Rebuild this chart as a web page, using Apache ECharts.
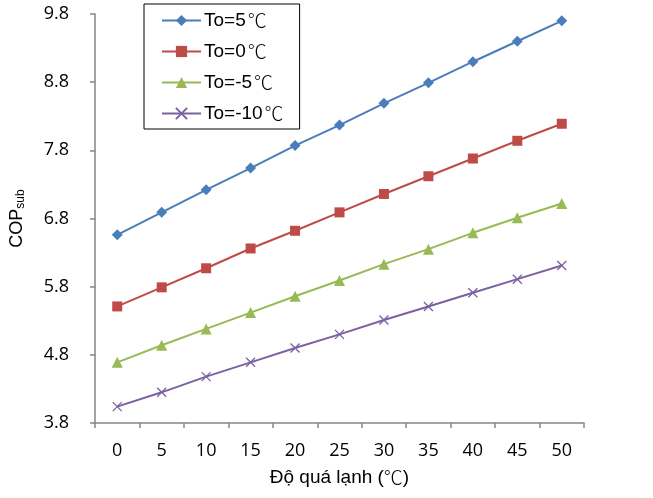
<!DOCTYPE html>
<html>
<head>
<meta charset="utf-8">
<script src="https://cdn.jsdelivr.net/npm/echarts@6/dist/echarts.min.js"></script>
<style>html,body{margin:0;padding:0;background:#fff}#c{width:653px;height:498px}</style>
</head>
<body>
<div id="c"></div>
<script>
const categories = ['0','5','10','15','20','25','30','35','40','45','50'];
const seriesNames = ['To=5℃','To=0℃','To=-5℃','To=-10℃'];
const to5 = [6.56, 6.89, 7.22, 7.54, 7.87, 8.17, 8.49, 8.79, 9.10, 9.40, 9.70];
const to0 = [5.51, 5.79, 6.07, 6.36, 6.62, 6.89, 7.16, 7.42, 7.68, 7.94, 8.19];
const toM5 = [4.69, 4.94, 5.18, 5.42, 5.66, 5.89, 6.13, 6.35, 6.59, 6.81, 7.02];
const toM10 = [4.04, 4.25, 4.48, 4.69, 4.90, 5.10, 5.31, 5.51, 5.71, 5.91, 6.11];
const yMin = 3.8, yMax = 9.8, yStep = 1;

const colors = ['#4A7EBB', '#BE4B48', '#98B954', '#7D60A0'];
const tickFont = 'Open Sans';
const cjk = 'Noto Sans CJK SC';
const chart = echarts.init(document.getElementById('c'));
const crossPath = 'path://M0,0L10,10M10,0L0,10';
function mk(name, data, color, symbol, size, extra) {
  return Object.assign({
    name, type: 'line', data, symbol, symbolSize: size,
    lineStyle: { color, width: 2 },
    itemStyle: { color },
    emphasis: { disabled: true },
    animation: false
  }, extra || {});
}
chart.setOption({
  animation: false,
  grid: { left: 93, right: 69, top: 14, bottom: 75, containLabel: false },
  legend: {
    orient: 'vertical', left: 144, top: 4,
    padding: [7, 16, 6, 17],
    borderColor: '#000', borderWidth: 1,
    itemWidth: 39, itemHeight: 14, itemGap: 12,
    formatter: n => '{t|' + n.replace('℃', '}{c|℃}'),
    textStyle: {
      color: '#000', padding: [0,0,0,-2],
      rich: {
        t: { fontFamily: 'Liberation Sans', fontSize: 19, color: '#000', lineHeight: 20 },
        c: { fontFamily: cjk, fontSize: 19, color: '#000', lineHeight: 20, fontWeight: 300, padding: [0,0,0,2] }
      }
    },
    data: seriesNames
  },
  xAxis: {
    type: 'category', data: categories, boundaryGap: true,
    axisLine: { lineStyle: { color: '#868686', width: 1.5 } },
    axisTick: { show: true, length: 5, lineStyle: { color: '#868686', width: 1.5 } },
    axisLabel: { fontFamily: tickFont, fontSize: 18, color: '#000', margin: 19 },
    name: '{t|Độ quá lạnh (}{c|℃}{t|)}', nameLocation: 'middle', nameGap: 45,
    nameTextStyle: {
      rich: {
        t: { fontFamily: 'Liberation Sans', fontSize: 19, color: '#000' },
        c: { fontFamily: cjk, fontSize: 19, color: '#000', fontWeight: 300 }
      }
    }
  },
  yAxis: {
    type: 'value', min: yMin, max: yMax, interval: yStep,
    splitLine: { show: false },
    axisLine: { show: true, lineStyle: { color: '#868686', width: 1.5 } },
    axisTick: { show: true, length: 5, lineStyle: { color: '#868686', width: 1.5 } },
    axisLabel: { fontFamily: tickFont, fontSize: 18, color: '#000', margin: 26, formatter: v => v.toFixed(1) },
    name: '{a|COP}{b|sub}', nameLocation: 'middle', nameGap: 68, nameRotate: 90,
    nameTextStyle: {
      rich: {
        a: { fontFamily: 'Liberation Sans', fontSize: 18, color: '#000' },
        b: { fontFamily: 'Liberation Sans', fontSize: 12, color: '#000', verticalAlign: 'bottom', padding: [8,0,0,0] }
      }
    }
  },
  series: [
    mk(seriesNames[0], to5, colors[0], 'diamond', 11),
    mk(seriesNames[1], to0, colors[1], 'rect', 10),
    mk(seriesNames[2], toM5, colors[2], 'triangle', 11),
    mk(seriesNames[3], toM10, colors[3], crossPath, 9, { itemStyle: { color: 'none', borderColor: colors[3], borderWidth: 1.3 } })
  ]
});
</script>
</body>
</html>
